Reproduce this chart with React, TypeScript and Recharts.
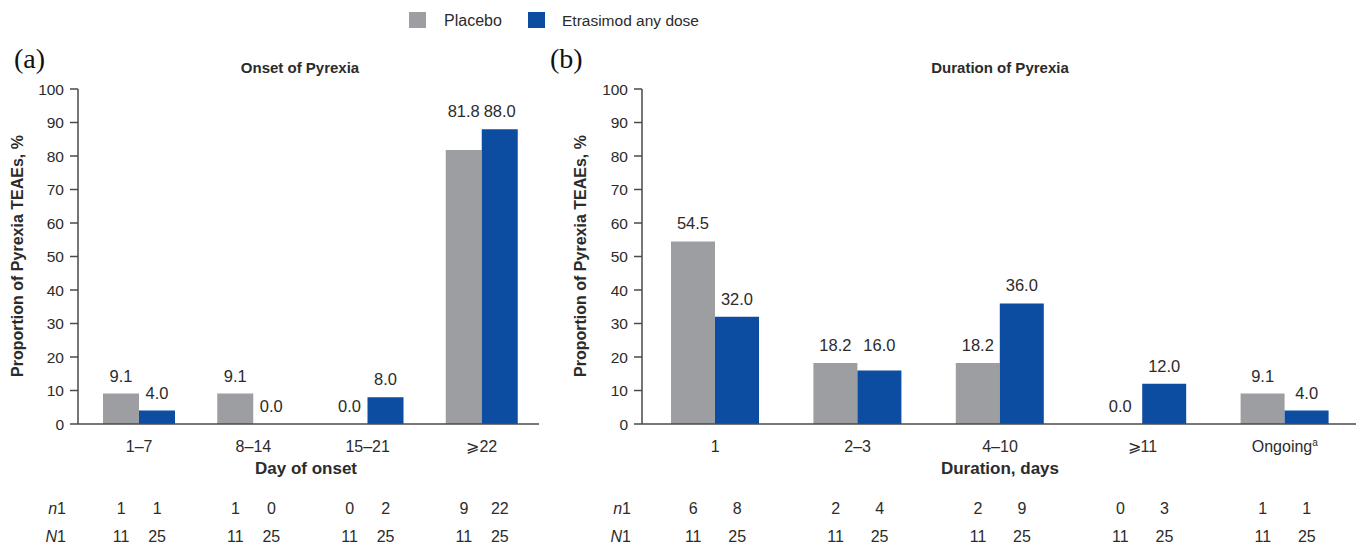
import React from 'react';
import { BarChart, Bar, XAxis, YAxis, LabelList } from 'recharts';

const onsetCategories = ['1–7', '8–14', '15–21', '⩾22'];
const onsetPlacebo = [9.1, 9.1, 0.0, 81.8];
const onsetEtrasimod = [4.0, 0.0, 8.0, 88.0];
const onsetN1Placebo = [1, 1, 0, 9];
const onsetN1Etrasimod = [1, 0, 2, 22];
const onsetNPlacebo = [11, 11, 11, 11];
const onsetNEtrasimod = [25, 25, 25, 25];

const durationCategories = ['1', '2–3', '4–10', '⩾11', 'Ongoing'];
const durationPlacebo = [54.5, 18.2, 18.2, 0.0, 9.1];
const durationEtrasimod = [32.0, 16.0, 36.0, 12.0, 4.0];
const durationN1Placebo = [6, 2, 2, 0, 1];
const durationN1Etrasimod = [8, 4, 9, 3, 1];
const durationNPlacebo = [11, 11, 11, 11, 11];
const durationNEtrasimod = [25, 25, 25, 25, 25];

const yTicks = [0, 10, 20, 30, 40, 50, 60, 70, 80, 90, 100];

const GRAY = '#9d9ea2';
const BLUE = '#0c4da2';
const AXIS = '#4a4a4a';
const TEXT = '#2b2b2b';
const FONT = '"Liberation Sans", Arial, Helvetica, sans-serif';
const PLOT_H = 335;

const onsetData = onsetCategories.map((c, i) => ({ cat: c, placebo: onsetPlacebo[i], etrasimod: onsetEtrasimod[i] }));
const durationData = durationCategories.map((c, i) => ({ cat: c, placebo: durationPlacebo[i], etrasimod: durationEtrasimod[i] }));

function makeLabel(plac: number[], etra: number[]) {
  return (props: any) => {
    const { x, y, width, height, value, index } = props;
    const bottom = Number(y) + Number(height || 0);
    const a = plac[index];
    const b = etra[index];
    const lo = Math.min(a, b);
    const hi = Math.max(a, b);
    const v = hi > 0 && lo / hi > 0.8 ? hi : Number(value);
    const top = bottom - (v * PLOT_H) / 100;
    return (
      <text x={Number(x) + Number(width) / 2} y={top - 12} textAnchor="middle" fontSize={16.5} fill={TEXT} fontFamily={FONT}>
        {Number(value).toFixed(1)}
      </text>
    );
  };
}

function makeTick(cats: string[], n1p: number[], n1e: number[], np: number[], ne: number[], half: number) {
  return (props: any) => {
    const { x, y, payload } = props;
    const i = payload.index;
    const label = cats[i];
    const isOngoing = label === 'Ongoing';
    return (
      <g fontFamily={FONT} fill={TEXT}>
        <text x={x} y={y + 28} textAnchor="middle" fontSize={16} fill={TEXT}>
          {label}
          {isOngoing ? <tspan fontSize={10} dy={-6}>a</tspan> : null}
        </text>
        <text x={x - half} y={y + 90} textAnchor="middle" fontSize={16} fill={TEXT}>{n1p[i]}</text>
        <text x={x + half} y={y + 90} textAnchor="middle" fontSize={16} fill={TEXT}>{n1e[i]}</text>
        <text x={x - half} y={y + 118} textAnchor="middle" fontSize={16} fill={TEXT}>{np[i]}</text>
        <text x={x + half} y={y + 118} textAnchor="middle" fontSize={16} fill={TEXT}>{ne[i]}</text>
      </g>
    );
  };
}

const yTickStyle = { fontSize: 15.5, fill: TEXT, fontFamily: FONT };

export default function App() {
  return (
    <div style={{ position: 'absolute', left: 0, top: 0, width: 1356, height: 549, background: '#fff', fontFamily: FONT }}>
      <div style={{ position: 'absolute', left: 0, top: 0 }}>
        <BarChart width={545} height={549} data={onsetData} margin={{ top: 89, right: 6, bottom: 0, left: 0 }} barGap={0}>
          <XAxis
            dataKey="cat"
            height={125}
            axisLine={{ stroke: AXIS, strokeWidth: 1.5 }}
            tickLine={false}
            tickSize={0}
            tickMargin={0}
            padding={{ left: 4, right: 0 }}
            interval={0}
            tick={makeTick(onsetCategories, onsetN1Placebo, onsetN1Etrasimod, onsetNPlacebo, onsetNEtrasimod, 18)}
          />
          <YAxis
            width={78}
            domain={[0, 100]}
            ticks={yTicks}
            interval={0}
            axisLine={{ stroke: AXIS, strokeWidth: 1.5 }}
            tickLine={{ stroke: AXIS, strokeWidth: 1.5 }}
            tickSize={8}
            tickMargin={6}
            tick={yTickStyle}
          />
          <Bar dataKey="placebo" fill={GRAY} barSize={36} minPointSize={0.01} isAnimationActive={false}>
            <LabelList dataKey="placebo" content={makeLabel(onsetPlacebo, onsetEtrasimod)} />
          </Bar>
          <Bar dataKey="etrasimod" fill={BLUE} barSize={36} minPointSize={0.01} isAnimationActive={false}>
            <LabelList dataKey="etrasimod" content={makeLabel(onsetPlacebo, onsetEtrasimod)} />
          </Bar>
        </BarChart>
      </div>
      <div style={{ position: 'absolute', left: 560, top: 0 }}>
        <BarChart width={796} height={549} data={durationData} margin={{ top: 89, right: 0, bottom: 0, left: 0 }} barGap={0}>
          <XAxis
            dataKey="cat"
            height={125}
            axisLine={{ stroke: AXIS, strokeWidth: 1.5 }}
            tickLine={false}
            tickSize={0}
            tickMargin={0}
            padding={{ left: 2, right: 0 }}
            interval={0}
            tick={makeTick(durationCategories, durationN1Placebo, durationN1Etrasimod, durationNPlacebo, durationNEtrasimod, 22)}
          />
          <YAxis
            width={82}
            domain={[0, 100]}
            ticks={yTicks}
            interval={0}
            axisLine={{ stroke: AXIS, strokeWidth: 1.5 }}
            tickLine={{ stroke: AXIS, strokeWidth: 1.5 }}
            tickSize={8}
            tickMargin={6}
            tick={yTickStyle}
          />
          <Bar dataKey="placebo" fill={GRAY} barSize={44} minPointSize={0.01} isAnimationActive={false}>
            <LabelList dataKey="placebo" content={makeLabel(durationPlacebo, durationEtrasimod)} />
          </Bar>
          <Bar dataKey="etrasimod" fill={BLUE} barSize={44} minPointSize={0.01} isAnimationActive={false}>
            <LabelList dataKey="etrasimod" content={makeLabel(durationPlacebo, durationEtrasimod)} />
          </Bar>
        </BarChart>
      </div>
      <svg width={1356} height={549} style={{ position: 'absolute', left: 0, top: 0, pointerEvents: 'none' }} fontFamily={FONT}>
        <rect x={409} y={12} width={17} height={16} fill={GRAY} />
        <text x={444} y={26} fontSize={16} fill={TEXT}>Placebo</text>
        <rect x={528} y={12} width={17} height={16} fill={BLUE} />
        <text x={562} y={26} fontSize={15.5} fill={TEXT}>Etrasimod any dose</text>

        <text x={14} y={68} fontSize={28} fill="#111" fontFamily='"Liberation Serif", "Times New Roman", serif'>(a)</text>
        <text x={550} y={68} fontSize={28} fill="#111" fontFamily='"Liberation Serif", "Times New Roman", serif'>(b)</text>

        <text x={300} y={73} textAnchor="middle" fontSize={15} fontWeight="bold" fill={TEXT}>Onset of Pyrexia</text>
        <text x={1000} y={73} textAnchor="middle" fontSize={15} fontWeight="bold" fill={TEXT}>Duration of Pyrexia</text>

        <text transform="translate(23,256) rotate(-90)" textAnchor="middle" fontSize={16} fontWeight="bold" fill={TEXT}>Proportion of Pyrexia TEAEs, %</text>
        <text transform="translate(586,256) rotate(-90)" textAnchor="middle" fontSize={16} fontWeight="bold" fill={TEXT}>Proportion of Pyrexia TEAEs, %</text>

        <text x={306} y={474} textAnchor="middle" fontSize={17} fontWeight="bold" fill={TEXT}>Day of onset</text>
        <text x={1000} y={474} textAnchor="middle" fontSize={17} fontWeight="bold" fill={TEXT}>Duration, days</text>

        <text x={66} y={514} textAnchor="end" fontSize={16} fill={TEXT}><tspan fontStyle="italic">n</tspan>1</text>
        <text x={66} y={542} textAnchor="end" fontSize={16} fill={TEXT}><tspan fontStyle="italic">N</tspan>1</text>
        <text x={631} y={514} textAnchor="end" fontSize={16} fill={TEXT}><tspan fontStyle="italic">n</tspan>1</text>
        <text x={631} y={542} textAnchor="end" fontSize={16} fill={TEXT}><tspan fontStyle="italic">N</tspan>1</text>
      </svg>
    </div>
  );
}
